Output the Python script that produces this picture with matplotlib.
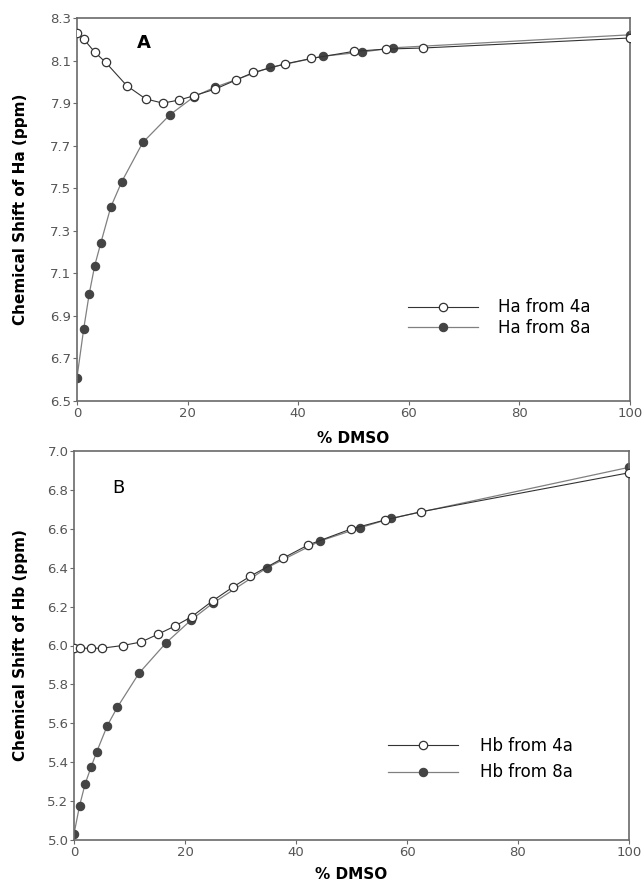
import matplotlib
matplotlib.use("Agg")
import matplotlib.pyplot as plt
import numpy as np

# Panel A data (Ha)
xa_4a = [0, 1.2, 3.2, 5.2, 9.0, 12.4, 15.5, 18.4, 21.2, 25.0, 28.7, 31.9, 37.6, 42.4, 50.0, 55.9, 62.6, 100]
ya_4a = [8.229, 8.201, 8.140, 8.091, 7.982, 7.920, 7.900, 7.914, 7.935, 7.966, 8.008, 8.044, 8.084, 8.110, 8.143, 8.154, 8.159, 8.206]
xa_8a = [0, 1.2, 2.2, 3.2, 4.3, 6.1, 8.1, 11.9, 16.8, 21.2, 25.0, 34.9, 44.4, 51.6, 57.2, 100]
ya_8a = [6.610, 6.837, 7.002, 7.136, 7.242, 7.411, 7.531, 7.715, 7.845, 7.931, 7.975, 8.068, 8.120, 8.140, 8.160, 8.221]

# Panel B data (Hb)
xb_4a = [0, 1.1, 3.1, 5.0, 8.8, 12.1, 15.2, 18.2, 21.2, 25.0, 28.6, 31.8, 37.6, 42.2, 49.9, 56.0, 62.6, 100]
yb_4a = [5.986, 5.986, 5.986, 5.986, 6.000, 6.018, 6.059, 6.100, 6.148, 6.230, 6.300, 6.357, 6.448, 6.517, 6.599, 6.645, 6.688, 6.888]
xb_8a = [0, 1.0, 2.0, 3.1, 4.1, 6.0, 7.8, 11.7, 16.6, 21.1, 25.0, 34.8, 44.3, 51.6, 57.2, 100]
yb_8a = [5.031, 5.176, 5.288, 5.377, 5.454, 5.588, 5.682, 5.857, 6.014, 6.131, 6.217, 6.400, 6.537, 6.606, 6.654, 6.916]

xticks = [0, 20, 40, 60, 80, 100]
yticks_a = [6.5, 6.7, 6.9, 7.1, 7.3, 7.5, 7.7, 7.9, 8.1, 8.3]
yticks_b = [5.0, 5.2, 5.4, 5.6, 5.8, 6.0, 6.2, 6.4, 6.6, 6.8, 7.0]

fig = plt.figure(figsize=(6.44, 8.86), dpi=100)
axA = fig.add_axes([77/644, 1-401/886, (630-77)/644, (401-18)/886])
axB = fig.add_axes([74/644, 1-840/886, (629-74)/644, (840-451)/886])

spine_col = "#6a6a6a"
tick_col = "#555555"
open_kw = dict(marker="o", markersize=6, markerfacecolor="white", markeredgecolor="#333333",
               markeredgewidth=0.9, color="#333333", linewidth=0.8)
fill_kw = dict(marker="o", markersize=6, markerfacecolor="#444444", markeredgecolor="#444444",
               markeredgewidth=0.8, color="#808080", linewidth=0.9)

def style(ax, yticks, ylabel, fmt):
    ax.set_xlim(0, 100)
    ax.set_ylim(yticks[0], yticks[-1])
    ax.set_xticks(xticks)
    ax.set_yticks(yticks)
    ax.set_yticklabels([fmt % v for v in yticks])
    for s in ax.spines.values():
        s.set_color(spine_col)
        s.set_linewidth(1.2)
    ax.tick_params(axis="both", direction="out", length=3, width=0.8, color=spine_col,
                   labelcolor=tick_col, labelsize=9.5, pad=1)
    ax.set_xlabel("% DMSO", fontsize=11, fontweight="bold")
    ax.set_ylabel(ylabel, fontsize=11, fontweight="bold")

axA.plot(xa_8a, ya_8a, label="Ha from 8a", zorder=2, **fill_kw)
axA.plot(xa_4a, ya_4a, label="Ha from 4a", zorder=3, **open_kw)
style(axA, yticks_a, "Chemical Shift of Ha (ppm)", "%.1f")
axA.text(0.12, 0.935, "A", transform=axA.transAxes, fontsize=13, fontweight="bold", ha="center", va="center")
h, l = axA.get_legend_handles_labels()
axA.legend(h[::-1], l[::-1], loc="lower right", bbox_to_anchor=(0.955, 0.128), frameon=False,
           fontsize=12, handlelength=4.2, handletextpad=1.2, labelspacing=0.15)
axA.xaxis.set_label_coords(0.5, -0.078)
axA.yaxis.set_label_coords(-0.089, 0.5)

axB.plot(xb_8a, yb_8a, label="Hb from 8a", zorder=2, **fill_kw)
axB.plot(xb_4a, yb_4a, label="Hb from 4a", zorder=3, **open_kw)
style(axB, yticks_b, "Chemical Shift of Hb (ppm)", "%.1f")
axB.text(0.08, 0.905, "B", transform=axB.transAxes, fontsize=13, ha="center", va="center")
h, l = axB.get_legend_handles_labels()
axB.legend(h[::-1], l[::-1], loc="lower right", bbox_to_anchor=(0.925, 0.112), frameon=False,
           fontsize=12, handlelength=4.2, handletextpad=1.3, labelspacing=0.5)
axB.xaxis.set_label_coords(0.5, -0.07)
axB.yaxis.set_label_coords(-0.083, 0.5)

fig.savefig("out.png", dpi=100)
